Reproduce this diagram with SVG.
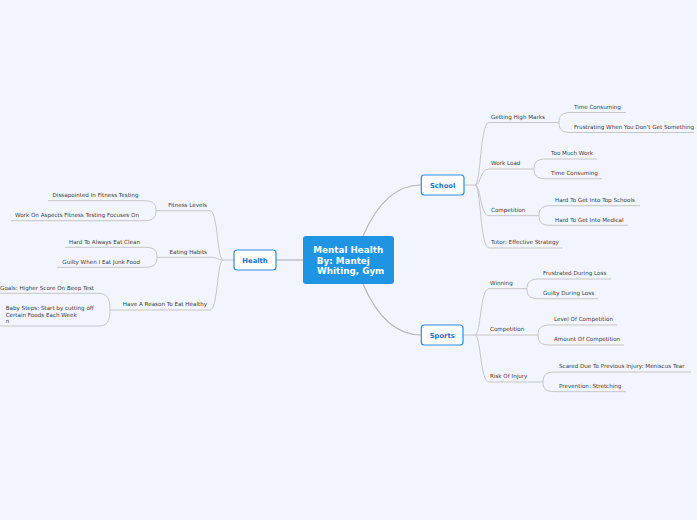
<svg xmlns="http://www.w3.org/2000/svg" width="697" height="520" viewBox="0 0 697 520">
<style>
.t{font-family:"DejaVu Sans",Verdana,sans-serif;font-size:5.6px;fill:#3a3a3a}
.e{text-anchor:end}
.c{fill:none;stroke:#c6c6c6;stroke-width:1}
.m{fill:none;stroke:#b5b5b5;stroke-width:1.2}
.n{fill:#fff;stroke:#2f8ae3;stroke-width:1.2}
.nt{font-family:"DejaVu Sans",Verdana,sans-serif;font-size:6.8px;font-weight:bold;fill:#1a6fc9;text-anchor:middle}
.ct{font-family:"DejaVu Sans",Verdana,sans-serif;font-size:8.8px;font-weight:bold;fill:#fff}
</style>
<rect width="697" height="520" fill="#f2f5fd"/>
<g id="connectors">
<path class="m" d="M363,236 Q385,185 421,185"/>
<path class="m" d="M363,284 Q385,335 421,335"/>
<path class="m" d="M276,260 H303"/>
<!-- School -->
<path class="c" d="M464,185 H475"/>
<path class="c" d="M475,185 C481,185 480,122.5 489,122.5 H559"/>
<path class="c" d="M475,185 C481,185 480,169 489,169 H534"/>
<path class="c" d="M475,185 C481,185 480,215.7 489,215.7 H539"/>
<path class="c" d="M475,185 C481,185 480,248 489,248 H563"/>
<path class="c" d="M571,112.5 C561,112.5 559,116.5 559,122.5 C559,128.5 561,132.5 571,132.5"/>
<path class="c" d="M571,112.5 H626 M571,132.5 H694"/>
<path class="c" d="M546,159 C536,159 534,163 534,169 C534,175 536,178.7 546,178.7"/>
<path class="c" d="M546,159 H597 M546,178.7 H602"/>
<path class="c" d="M551,205.7 C541,205.7 539,209.7 539,215.7 C539,221.7 541,225.3 551,225.3"/>
<path class="c" d="M551,205.7 H640 M551,225.3 H628"/>
<!-- Sports -->
<path class="c" d="M463,335 H475"/>
<path class="c" d="M475,335 C481,335 480,288.7 489,288.7 H527"/>
<path class="c" d="M475,335 H538"/>
<path class="c" d="M475,335 C481,335 480,382 489,382 H543"/>
<path class="c" d="M539,279 C529,279 527,283 527,288.7 C527,294.7 529,298.7 539,298.7"/>
<path class="c" d="M539,279 H611 M539,298.7 H598"/>
<path class="c" d="M550,325 C540,325 538,329 538,335 C538,341 540,345 550,345"/>
<path class="c" d="M550,325 H617 M550,345 H624"/>
<path class="c" d="M555,372 C545,372 543,376 543,382 C543,388 545,391.7 555,391.7"/>
<path class="c" d="M555,372 H691 M555,391.7 H626"/>
<!-- Health -->
<path class="c" d="M234,260 H223"/>
<path class="c" d="M223,260 C217,260 218,210.7 210,210.7 H156"/>
<path class="c" d="M223,260 C217,260 218,257.3 210,257.3 H157"/>
<path class="c" d="M223,260 C217,260 218,310 210,310 H110"/>
<path class="c" d="M144,200.7 C154,200.7 156,204.7 156,210.7 C156,216.7 154,220.7 144,220.7"/>
<path class="c" d="M144,200.7 H48 M144,220.7 H11"/>
<path class="c" d="M145,247.3 C155,247.3 157,251.3 157,257.3 C157,263.3 155,267.3 145,267.3"/>
<path class="c" d="M145,247.3 H65 M145,267.3 H57"/>
<path class="c" d="M98,293.3 C107,293.3 110,298 110,310 C110,322 107,326 98,326"/>
<path class="c" d="M98,293.3 H0 M98,326 H0"/>
</g>
<g id="central">
<rect x="303" y="236" width="91" height="48" rx="3" fill="#1f94e2"/>
<text class="ct" x="313.3" y="252.7">Mental Health</text>
<text class="ct" x="316.7" y="263.6">By: Mantej</text>
<text class="ct" x="317" y="274.4">Whiting, Gym</text>
</g>
<g id="health">
<rect class="n" x="234" y="250" width="42" height="20" rx="3"/>
<text class="nt" x="255" y="263">Health</text>
</g>
<g id="school">
<rect class="n" x="421.3" y="175" width="42.7" height="20" rx="3"/>
<text class="nt" x="442.6" y="188">School</text>
</g>
<g id="sports">
<rect class="n" x="421.3" y="325" width="41.7" height="20" rx="3"/>
<text class="nt" x="442.2" y="338">Sports</text>
</g>
<g id="school-items">
<text class="t" x="491" y="118.8">Getting High Marks</text>
<text class="t" x="574" y="108.8">Time Consuming</text>
<text class="t" x="574" y="128.8">Frustrating When You Don't Get Something</text>
<text class="t" x="491" y="165.3">Work Load</text>
<text class="t" x="551" y="155.3">Too Much Work</text>
<text class="t" x="551" y="175">Time Consuming</text>
<text class="t" x="491" y="212">Competition</text>
<text class="t" x="555" y="202">Hard To Get Into Top Schools</text>
<text class="t" x="555" y="221.6">Hard To Get Into Medical</text>
<text class="t" x="491" y="244.3">Tutor: Effective Strategy</text>
</g>
<g id="sports-items">
<text class="t" x="490" y="285">Winning</text>
<text class="t" x="543" y="275.3">Frustrated During Loss</text>
<text class="t" x="543" y="295">Guilty During Loss</text>
<text class="t" x="490" y="331.3">Competition</text>
<text class="t" x="554" y="321.3">Level Of Competition</text>
<text class="t" x="554" y="341.3">Amount Of Competition</text>
<text class="t" x="490" y="378.3">Risk Of Injury</text>
<text class="t" x="559" y="368.3">Scared Due To Previous Injury: Meniscus Tear</text>
<text class="t" x="559" y="388">Prevention: Stretching</text>
</g>
<g id="health-items">
<text class="t e" x="207" y="207">Fitness Levels</text>
<text class="t e" x="138.5" y="197">Dissapointed In Fitness Testing</text>
<text class="t e" x="139" y="217">Work On Aspects Fitness Testing Focuses On</text>
<text class="t e" x="207" y="253.6">Eating Habits</text>
<text class="t e" x="140" y="243.6">Hard To Always Eat Clean</text>
<text class="t e" x="140" y="263.6">Guilty When I Eat Junk Food</text>
<text class="t e" x="207" y="306.3">Have A Reason To Eat Healthy</text>
<text class="t e" x="94" y="289.6">Goals: Higher Score On Beep Test</text>
<text class="t" x="5.7" y="310.3">Baby Steps: Start by cutting off</text>
<text class="t" x="5.7" y="316.6">Certain Foods Each Week</text>
<text class="t" x="5.7" y="322.6">n</text>
</g>
</svg>
